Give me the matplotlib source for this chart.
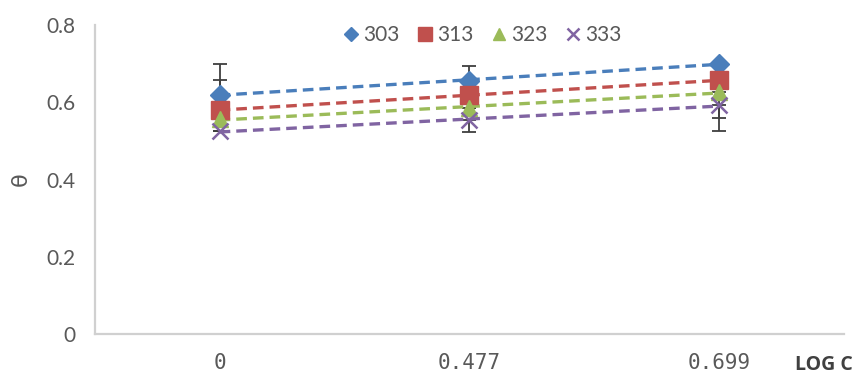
import numpy as np
import matplotlib.pyplot as plt

# log concentration categories (evenly spaced like a category axis)
logC = ["0", "0.477", "0.699"]
temps = ["303", "313", "323", "333"]

# surface coverage theta at each temperature
theta303 = [0.62, 0.655, 0.70]
theta313 = [0.58, 0.618, 0.657]
theta323 = [0.556, 0.585, 0.626]
theta333 = [0.525, 0.553, 0.592]

# error bars (lower, upper) per series
err303 = [[0, 0, 0], [0.08, 0.04, 0]]
err313 = [[0, 0, 0], [0.077, 0, 0]]
err323 = [[0, 0, 0.10], [0, 0, 0]]
err333 = [[0, 0.03, 0.033], [0, 0, 0]]

colors = ["#4A7EBB", "#C0504D", "#9BBB59", "#8064A2"]
markers = ["D", "s", "^", "x"]
sizes = [10, 12.5, 11, 11]

series = [theta303, theta313, theta323, theta333]
errs = [err303, err313, err323, err333]

plt.rcParams["font.family"] = ["Lato", "DejaVu Sans"]

fig = plt.figure(figsize=(8.54, 3.74), dpi=100)
ax = fig.add_axes([0.111, 0.107, 0.877, 0.826])

idx = np.arange(len(logC))

for vals, err, c, m, s, lab in zip(series, errs, colors, markers, sizes, temps):
    ax.errorbar(idx, vals, yerr=np.array(err), fmt="none", ecolor="#3F3F3F",
                elinewidth=1.3, capsize=5, capthick=1.3, zorder=2)
    # linear trendline
    k, b = np.polyfit(idx, vals, 1)
    ax.plot(idx, k * idx + b, color=c, lw=2.4, ls=(0, (3.2, 1.8)), zorder=3)
    if m == "x":
        ax.plot(idx, vals, ls="none", marker=m, ms=s, mew=1.8, color=c, label=lab, zorder=4)
    else:
        ax.plot(idx, vals, ls="none", marker=m, ms=s, color=c, mec=c, label=lab, zorder=4)

ax.set_xlim(-0.5, 2.5)
ax.set_ylim(0, 0.8)
ax.set_yticks([0, 0.2, 0.4, 0.6, 0.8])
ax.set_yticklabels(["0", "0.2", "0.4", "0.6", "0.8"])
ax.set_xticks(idx)
ax.set_xticklabels(logC, fontfamily="DejaVu Sans Mono", fontsize=13.5)

ax.tick_params(length=0, colors="#595959", labelsize=15)
ax.tick_params(axis="y", pad=14)
ax.tick_params(axis="x", pad=14)
for side in ["top", "right"]:
    ax.spines[side].set_visible(False)
for side in ["left", "bottom"]:
    ax.spines[side].set_color("#D0D0D0")
    ax.spines[side].set_linewidth(1.6)

ax.set_ylabel("θ", rotation=90, fontsize=16, color="#595959", labelpad=11,
              fontfamily="DejaVu Sans")
fig.text(0.965, 0.025, "LOG C", fontsize=14, fontweight="bold", color="#404040",
         ha="center", va="center", fontfamily="Open Sans")

leg = fig.legend(loc="center", bbox_to_anchor=(480 / 854, 1 - 35 / 374), ncol=4,
                 frameon=False, fontsize=15, handletextpad=0.0, columnspacing=0.6,
                 markerscale=0.75, handlelength=1.2, labelcolor="#595959")

fig.savefig("out.png", dpi=100)
